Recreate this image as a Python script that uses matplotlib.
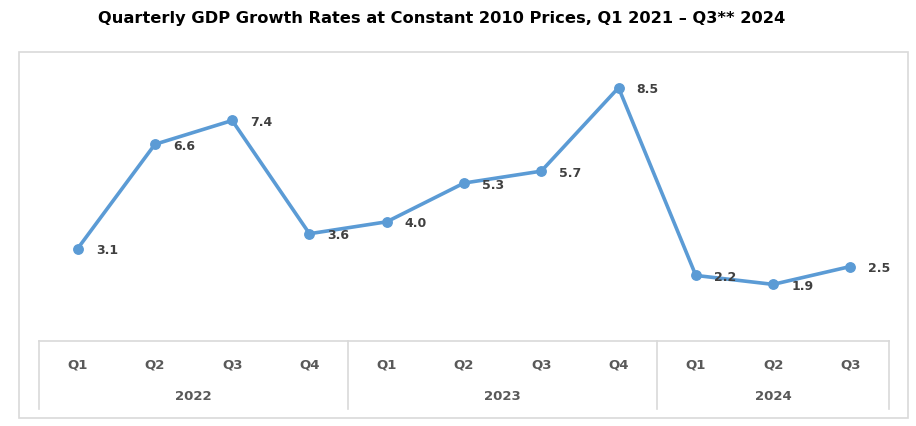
import matplotlib.pyplot as plt
from matplotlib.patches import Rectangle

# data
quarters = ["Q1", "Q2", "Q3", "Q4", "Q1", "Q2", "Q3", "Q4", "Q1", "Q2", "Q3"]
years = ["2022", "2023", "2024"]
year_counts = [4, 4, 3]
growth = [3.1, 6.6, 7.4, 3.6, 4.0, 5.3, 5.7, 8.5, 2.2, 1.9, 2.5]

line_color = "#5B9BD5"
label_color = "#404040"
cat_color = "#595959"
frame_color = "#D9D9D9"

W, H = 916, 426
fig = plt.figure(figsize=(W / 100, H / 100), dpi=100)

# outer chart frame
fig.add_artist(Rectangle((19 / W, 1 - 418 / H), (908 - 19) / W, (418 - 52) / H,
                         transform=fig.transFigure, fill=False,
                         edgecolor=frame_color, linewidth=1.2))

fig.text(442 / W, 1 - 18 / H,
         "Quarterly GDP Growth Rates at Constant 2010 Prices, Q1 2021 \u2013 Q3** 2024",
         ha="center", va="center", fontsize=11.7, fontweight="bold", color="black")

# plot area: value 0 sits on top edge of the category table
ax_left, ax_right, ax_bottom, ax_top = 39, 889, 341, 43
ax = fig.add_axes([ax_left / W, 1 - ax_bottom / H,
                   (ax_right - ax_left) / W, (ax_bottom - ax_top) / H])
ax.set_xlim(0, len(growth))
ax.set_ylim(0, 10)
for s in ax.spines.values():
    s.set_visible(False)
ax.set_xticks([])
ax.set_yticks([])

xs = [i + 0.5 for i in range(len(growth))]
ax.plot(xs, growth, color=line_color, linewidth=2.6, marker="o",
        markersize=6.8, clip_on=False, zorder=3)

for x, v in zip(xs, growth):
    ax.annotate(f"{v:.1f}", (x, v), xytext=(13, -1.5), textcoords="offset points",
                ha="left", va="center", fontsize=9, fontweight="bold",
                color=label_color)

# category table below the plot
ax_h = ax_bottom - ax_top
tbl_bottom = -(409 - ax_bottom) / ax_h
q_y = -(365 - ax_bottom) / ax_h
yr_y = -(397 - ax_bottom) / ax_h
tr = ax.get_xaxis_transform()

ax.plot([0, len(growth)], [0, 0], transform=tr, color=frame_color,
        linewidth=1.2, clip_on=False)
bounds = [0]
for c in year_counts:
    bounds.append(bounds[-1] + c)
for b in bounds:
    ax.plot([b, b], [0, tbl_bottom], transform=tr, color=frame_color,
            linewidth=1.2, clip_on=False)

for x, q in zip(xs, quarters):
    ax.text(x, q_y, q, transform=tr, ha="center", va="center",
            fontsize=9.5, fontweight="bold", color=cat_color)
for i, yr in enumerate(years):
    mid = (bounds[i] + bounds[i + 1]) / 2
    ax.text(mid, yr_y, yr, transform=tr, ha="center", va="center",
            fontsize=9.5, fontweight="bold", color=cat_color)

fig.savefig("out.png", dpi=100)
